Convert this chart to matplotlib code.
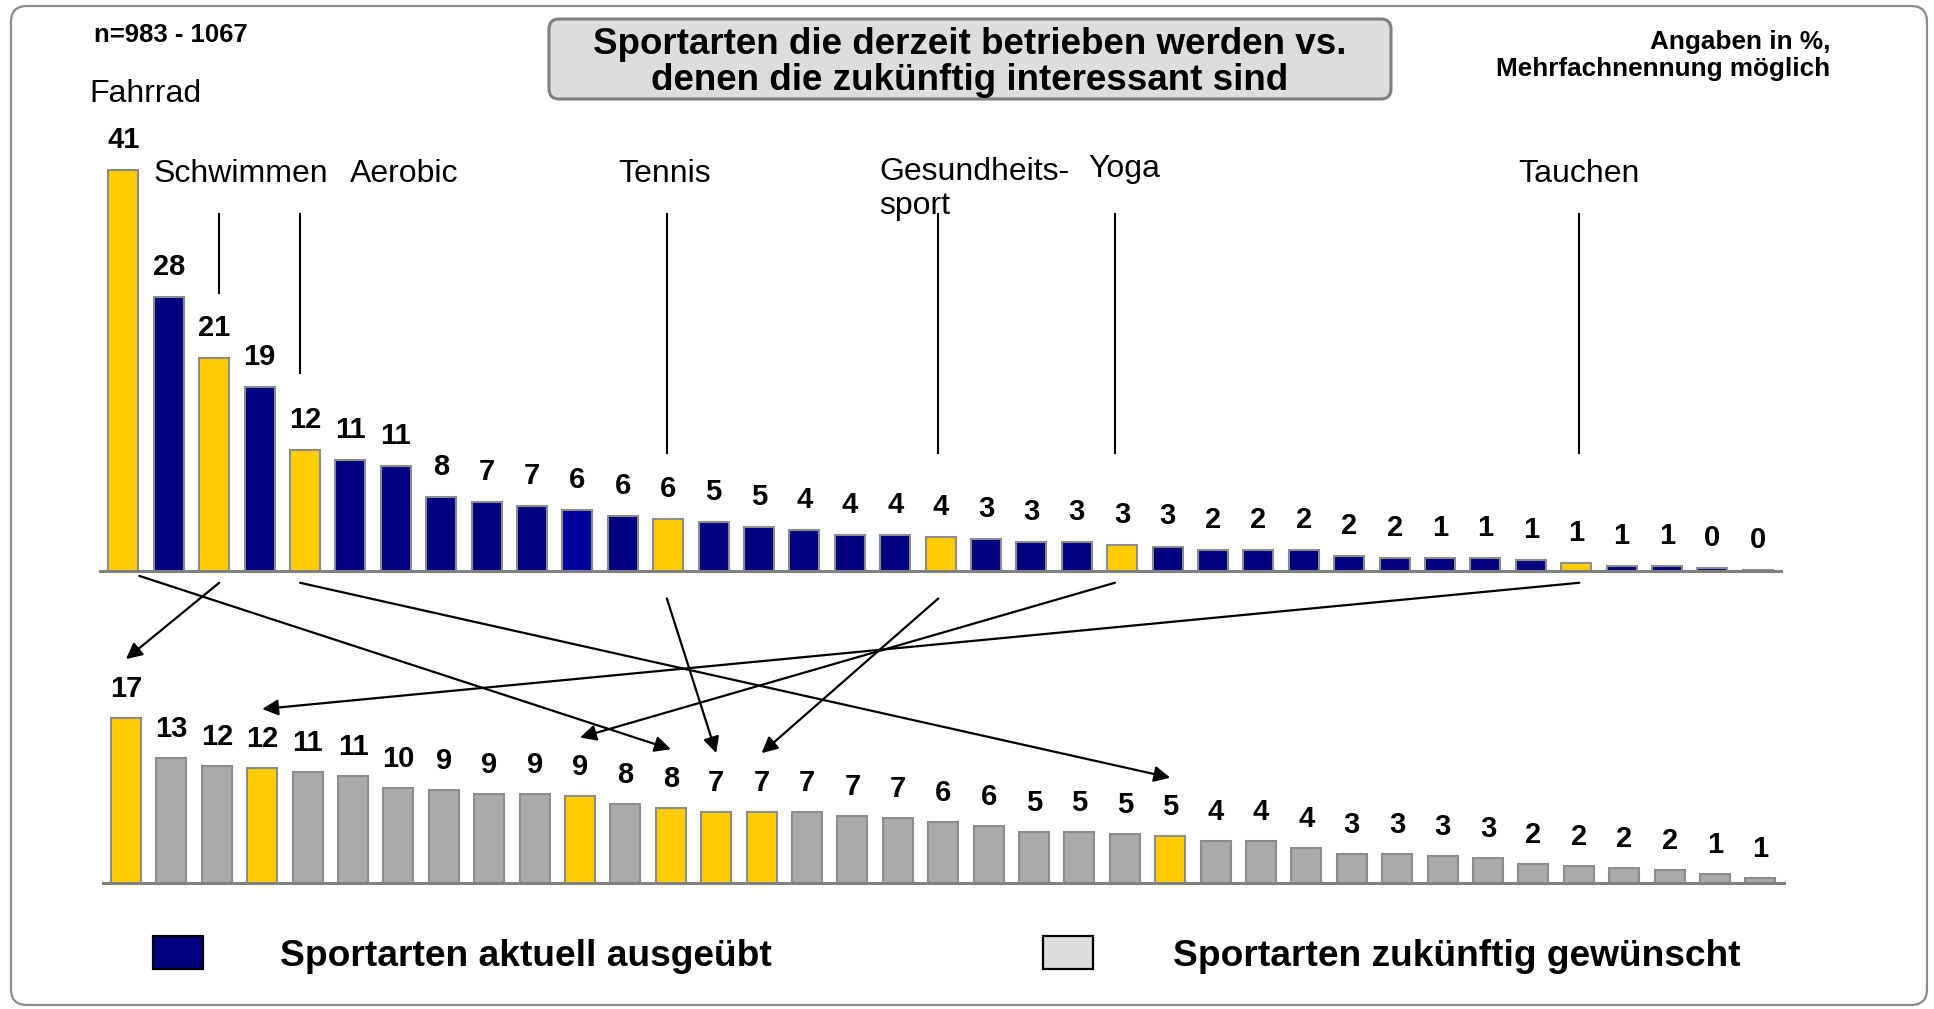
import matplotlib
matplotlib.use('Agg')
import matplotlib.pyplot as plt
from matplotlib.patches import FancyBboxPatch, Rectangle, ConnectionPatch
from matplotlib.transforms import IdentityTransform

plt.rcParams['font.family'] = ['Liberation Sans', 'DejaVu Sans']

W, H = 1934, 1009

# ---------------- data ----------------
current_values = [40.9, 28.0, 21.7, 18.8, 12.3, 11.3, 10.7, 7.6, 7.0, 6.6, 6.2, 5.6, 5.3,
                  5.0, 4.5, 4.2, 3.7, 3.7, 3.5, 3.3, 3.0, 3.0, 2.7, 2.5, 2.1, 2.1, 2.1,
                  1.5, 1.3, 1.3, 1.3, 1.1, 0.85, 0.5, 0.5, 0.3, 0.15]
current_labels = [41, 28, 21, 19, 12, 11, 11, 8, 7, 7, 6, 6, 6, 5, 5, 4, 4, 4, 4, 3, 3, 3,
                  3, 3, 2, 2, 2, 2, 2, 1, 1, 1, 1, 1, 1, 0, 0]

future_values = [16.8, 12.7, 11.9, 11.7, 11.3, 10.9, 9.6, 9.4, 9.0, 9.0, 8.8, 8.0, 7.6,
                 7.2, 7.2, 7.2, 6.8, 6.6, 6.2, 5.8, 5.2, 5.2, 4.9, 4.7, 4.2, 4.2, 3.5,
                 2.9, 2.9, 2.7, 2.5, 1.9, 1.7, 1.5, 1.3, 0.9, 0.45]
future_labels = [17, 13, 12, 12, 11, 11, 10, 9, 9, 9, 9, 8, 8, 7, 7, 7, 7, 7, 6, 6, 5, 5,
                 5, 5, 4, 4, 4, 3, 3, 3, 3, 2, 2, 2, 2, 1, 1]

highlight_names = ['Fahrrad', 'Schwimmen', 'Aerobic', 'Tennis', 'Gesundheits-\nsport',
                   'Yoga', 'Tauchen']
highlight_current_idx = [0, 2, 4, 12, 18, 22, 32]
highlight_future_idx = [12, 0, 23, 13, 14, 10, 3]

title_lines = ['Sportarten die derzeit betrieben werden vs.',
               'denen die zukünftig interessant sind']
sample_text = 'n=983 - 1067'
note_lines = ['Angaben in %,', 'Mehrfachnennung möglich']
legend_labels = ['Sportarten aktuell ausgeübt', 'Sportarten zukünftig gewünscht']

# ---------------- styles ----------------
NAVY = '#000080'
NAVY2 = '#00009C'
YELLOW = '#FFCC00'
GRAY = '#AAAAAA'
EDGE = '#8C8C8C'

fig = plt.figure(figsize=(W / 100, H / 100), dpi=100)
fig.patch.set_facecolor('white')

PX_PER_UNIT = 9.8


def add_axes_px(left, right, bottom, top):
    return fig.add_axes([left / W, 1 - bottom / H, (right - left) / W, (bottom - top) / H])


def style_axes(ax, left, right, c0, step):
    ax.set_xlim((left - c0) / step, (right - c0) / step)
    for s in ['top', 'left', 'right']:
        ax.spines[s].set_visible(False)
    ax.spines['bottom'].set_color('#808080')
    ax.spines['bottom'].set_linewidth(2.2)
    ax.set_xticks([])
    ax.set_yticks([])
    ax.patch.set_alpha(0)


# top chart
t_left, t_right, t_bottom, t_top = 100, 1781, 571, 130
ax_top = add_axes_px(t_left, t_right, t_bottom, t_top)
ax_top.set_ylim(0, (t_bottom - t_top) / PX_PER_UNIT)
style_axes(ax_top, t_left, t_right, 123.4, 45.4)

top_colors = []
for i in range(len(current_values)):
    if i in highlight_current_idx:
        top_colors.append(YELLOW)
    elif i == 10:
        top_colors.append(NAVY2)
    else:
        top_colors.append(NAVY)
xs = list(range(len(current_values)))
ax_top.bar(xs, current_values, width=0.66, color=top_colors, edgecolor=EDGE, linewidth=1.5)
for i, (v, lab) in enumerate(zip(current_values, current_labels)):
    ax_top.annotate(str(lab), xy=(i, v), xytext=(0, 22), textcoords='offset pixels',
                    ha='center', va='baseline', fontsize=21, fontweight='bold')

# bottom chart
b_left, b_right, b_bottom, b_top = 103.3, 1783.6, 882.5, 686.5
ax_bot = add_axes_px(b_left, b_right, b_bottom, b_top)
ax_bot.set_ylim(0, (b_bottom - b_top) / PX_PER_UNIT)
style_axes(ax_bot, b_left, b_right, 126.0, 45.4)

bot_colors = [YELLOW if i in highlight_future_idx else GRAY for i in range(len(future_values))]
xs2 = list(range(len(future_values)))
ax_bot.bar(xs2, future_values, width=0.66, color=bot_colors, edgecolor=EDGE, linewidth=1.5)
for i, (v, lab) in enumerate(zip(future_values, future_labels)):
    ax_bot.annotate(str(lab), xy=(i, v), xytext=(0, 21), textcoords='offset pixels',
                    ha='center', va='baseline', fontsize=21, fontweight='bold')

# leader lines (top chart) and arrow start offsets (x in bar units, y in value units)
line_dx = [0.35, 0.11, -0.11, -0.03, -0.05, -0.16, 0.07]
leader_top = (t_bottom - 214) / PX_PER_UNIT
leader_bottom_px = [None, 293, 373, 453, 453, 453, 453]
for idx, dx, lb in zip(highlight_current_idx, line_dx, leader_bottom_px):
    if lb is None:
        continue
    ax_top.plot([idx + dx, idx + dx], [leader_top, (t_bottom - lb) / PX_PER_UNIT],
                color='black', lw=1.5, clip_on=False)

# category labels (baseline of the last line)
label_pos = [(89, 101.7), (154, 181.7), (350, 181.7), (618, 181.7), (879, 214),
             (1088, 177), (1518, 181.7)]
for name, (x, y) in zip(highlight_names, label_pos):
    fig.text(x / W, 1 - y / H, name, ha='left', va='baseline', fontsize=23,
             linespacing=1.16)

# arrows from current to future
start_dy = [-0.5, -1.2, -1.2, -2.8, -2.8, -1.2, -1.2]
for ia, ib, dx, dy in zip(highlight_current_idx, highlight_future_idx, line_dx, start_dy):
    con = ConnectionPatch(xyA=(ia + dx, dy), coordsA=ax_top.transData,
                          xyB=(ib, future_values[ib] + 6.0), coordsB=ax_bot.transData,
                          arrowstyle='-|>', mutation_scale=24, lw=1.6, color='black',
                          shrinkA=0, shrinkB=0)
    fig.add_artist(con)

# outer frame
frame = FancyBboxPatch((11, H - 1005), 1916, 999, boxstyle='round,pad=0,rounding_size=16',
                       transform=IdentityTransform(), facecolor='none', edgecolor='#8A8A8A',
                       lw=1.6)
fig.add_artist(frame)

# title box
tbox = FancyBboxPatch((549, H - 99), 842, 80, boxstyle='round,pad=0,rounding_size=10',
                      transform=IdentityTransform(), facecolor='#DDDDDD', edgecolor='#7F7F7F',
                      lw=2.2)
fig.add_artist(tbox)
fig.text(970 / W, 1 - 54 / H, title_lines[0], ha='center', va='baseline', fontsize=26.5,
         fontweight='bold')
fig.text(970 / W, 1 - 89.5 / H, title_lines[1], ha='center', va='baseline', fontsize=26.5,
         fontweight='bold')

fig.text(94 / W, 1 - 41.7 / H, sample_text, ha='left', va='baseline', fontsize=18.5,
         fontweight='bold')
fig.text(1830 / W, 1 - 49.5 / H, note_lines[0], ha='right', va='baseline', fontsize=18.8,
         fontweight='bold')
fig.text(1830 / W, 1 - 76 / H, note_lines[1], ha='right', va='baseline', fontsize=18.8,
         fontweight='bold')

# legend
leg1 = Rectangle((153, H - 969), 50, 33, transform=IdentityTransform(), facecolor=NAVY,
                 edgecolor='black', lw=1.6)
leg2 = Rectangle((1043, H - 969), 50, 33, transform=IdentityTransform(), facecolor='#DCDCDC',
                 edgecolor='black', lw=1.6)
fig.add_artist(leg1)
fig.add_artist(leg2)
fig.text(280.5 / W, 1 - 966 / H, legend_labels[0], ha='left', va='baseline', fontsize=26.7,
         fontweight='bold')
fig.text(1173 / W, 1 - 966 / H, legend_labels[1], ha='left', va='baseline', fontsize=26.7,
         fontweight='bold')

fig.savefig('out.png', dpi=100, facecolor='white')
